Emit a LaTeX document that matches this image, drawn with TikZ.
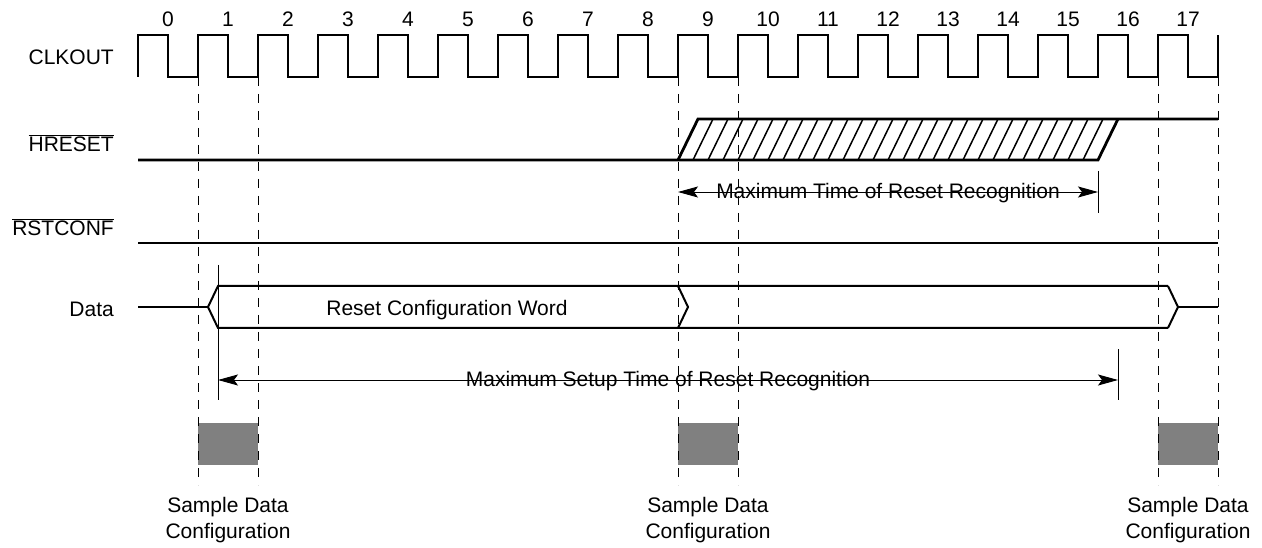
\documentclass[tikz,border=0pt]{standalone}
\usepackage{fontspec}
\setmainfont{Liberation Sans}
\usetikzlibrary{arrows.meta}
\definecolor{sampgray}{HTML}{808080}

\begin{document}
\begin{tikzpicture}[x=1pt,y=-1pt,
    sig/.style={line width=2.8pt},
    bus/.style={line width=2pt},
    hatch/.style={line width=1.5pt},
    guide/.style={line width=0.9pt,dash pattern=on 9pt off 8pt},
    dim/.style={line width=0.9pt,
      {Stealth[length=20pt,width=11pt,inset=4pt]}-{Stealth[length=20pt,width=11pt,inset=4pt]}},
    lbl/.style={font=\fontsize{21}{26}\selectfont,inner sep=0pt}]
  \useasboundingbox (0,0) rectangle (1262,548);

  % signal names
  \node[lbl,anchor=east] (clk) at (114,57) {CLKOUT};
  \node[lbl,anchor=east] (hrst) at (114,143) {$\overline{\mbox{HRESET}}$};
  \node[lbl,anchor=east] (rcfg) at (114,227) {$\overline{\mbox{RSTCONF}}$};
  \node[lbl,anchor=east] (dat) at (114,309) {Data};

  % cycle numbers
  \foreach \i in {0,...,17}
    \node[lbl] (c\i) at (168+60*\i,19) {\i};

  % sample windows
  \foreach \x/\n in {198/a,678/b,1158/c} {
    \fill[sampgray] (\x,423) rectangle (\x+60,465);
    \node[lbl,align=center] (s\n) at (\x+30,520) {Sample Data\\Configuration};
  }

  % dashed guides
  \foreach \x in {198,258,678,738,1158,1218}
    \draw[guide] (\x,77) -- (\x,485);

  % clock
  \draw[sig] (138,77) \foreach \i in {0,...,17} {
      -- ++(0,-42) -- ++(30,0) -- ++(0,42) -- ++(30,0) } -- ++(0,-42);

  % hreset
  \draw[sig] (138,160) -- (1098,160) -- (1118,119);
  \draw[sig] (678,160) -- (698,119) -- (1218,119);
  \foreach \k in {1,...,27}
    \draw[hatch] (678+15*\k,160) -- ++(20,-41);

  % rstconf
  \draw[sig] (138,243) -- (1218,243);

  % data bus
  \draw[sig] (138,307) -- (208,307);
  \draw[bus] (1168,286) -- (218,286) -- (208,307) -- (218,328) -- (1168,328);
  \draw[bus] (678,286) -- (688,307) -- (678,328);
  \draw[bus] (1168,286) -- (1178,307) -- (1168,328);
  \draw[sig] (1178,307) -- (1218,307);
  \node[lbl] (word) at (447,310) {Reset Configuration Word};

  % timing arrows
  \coordinate (rl) at (678,192);
  \coordinate (rr) at (1098,192);
  \draw[line width=0.9pt] (1098,171) -- (1098,213);
  \draw[dim] (rl) -- (rr);
  \node[lbl] (rtime) at (888,193) {Maximum Time of Reset Recognition};

  \coordinate (sl) at (218,380);
  \coordinate (sr) at (1118,380);
  \draw[line width=0.9pt] (218,265) -- (218,400);
  \draw[line width=0.9pt] (1118,349) -- (1118,400);
  \draw[dim] (sl) -- (sr);
  \node[lbl] (stime) at (668,381) {Maximum Setup Time of Reset Recognition};
\end{tikzpicture}
\end{document}
